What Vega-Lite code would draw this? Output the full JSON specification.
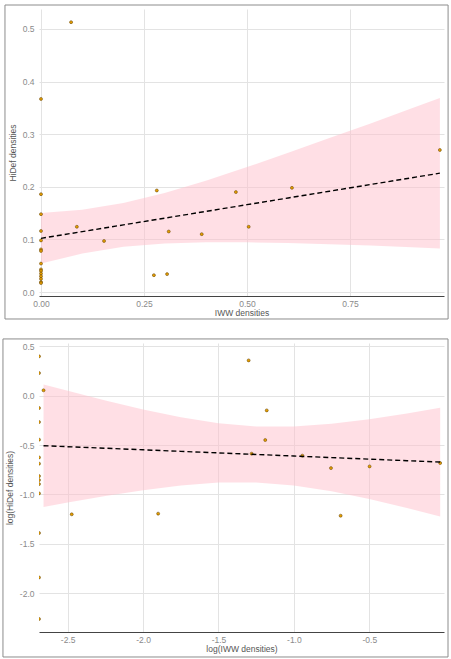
{
  "$schema": "https://vega.github.io/schema/vega-lite/v6.json",
  "background": "white",
  "padding": {"left": 2, "top": 4, "right": 3, "bottom": 2},
  "autosize": {"type": "pad"},
  "bounds": "flush",
  "spacing": 47,
  "config": {
    "font": "Liberation Sans",
    "view": {"stroke": null},
    "locale": {"number": {"decimal": ".", "thousands": ",", "grouping": [3], "currency": ["$", ""], "minus": "-"}},
    "axis": {
      "gridColor": "#e3e3e3",
      "gridWidth": 1,
      "ticks": false,
      "tickSize": 0,
      "labelFontSize": 8.5,
      "labelColor": "#8a8a8a",
      "labelFont": "Liberation Sans",
      "titleFont": "Liberation Sans",
      "titleFontSize": 8.5,
      "titleFontWeight": "normal",
      "titleColor": "#555555"
    },
    "axisX": {"domain": true, "domainColor": "#444444", "domainWidth": 1, "labelPadding": 3, "titlePadding": 1},
    "axisY": {"domain": false, "labelPadding": 5, "titlePadding": 5}
  },
  "datasets": {
    "top_pts": [
      {"x": 0, "y": 0.367}, {"x": 0.073, "y": 0.513}, {"x": 0, "y": 0.186}, {"x": 0, "y": 0.148},
      {"x": 0, "y": 0.116}, {"x": 0, "y": 0.098}, {"x": 0, "y": 0.081}, {"x": 0, "y": 0.078},
      {"x": 0, "y": 0.054}, {"x": 0, "y": 0.043}, {"x": 0, "y": 0.040}, {"x": 0, "y": 0.035},
      {"x": 0, "y": 0.030}, {"x": 0, "y": 0.025}, {"x": 0, "y": 0.019}, {"x": 0, "y": 0.017},
      {"x": 0.087, "y": 0.124}, {"x": 0.153, "y": 0.097}, {"x": 0.281, "y": 0.193}, {"x": 0.310, "y": 0.115},
      {"x": 0.390, "y": 0.110}, {"x": 0.473, "y": 0.190}, {"x": 0.504, "y": 0.124}, {"x": 0.609, "y": 0.198},
      {"x": 0.274, "y": 0.032}, {"x": 0.306, "y": 0.034}, {"x": 0.968, "y": 0.270}
    ],
    "top_fit": [
      {"x": 0, "fit": 0.102, "lo": 0.054, "hi": 0.150},
      {"x": 0.1, "fit": 0.1148, "lo": 0.0731, "hi": 0.1565},
      {"x": 0.2, "fit": 0.1276, "lo": 0.0859, "hi": 0.1693},
      {"x": 0.3, "fit": 0.1404, "lo": 0.0924, "hi": 0.1884},
      {"x": 0.4, "fit": 0.1532, "lo": 0.0947, "hi": 0.2117},
      {"x": 0.5, "fit": 0.166, "lo": 0.0945, "hi": 0.2375},
      {"x": 0.6, "fit": 0.1788, "lo": 0.093, "hi": 0.2646},
      {"x": 0.7, "fit": 0.1916, "lo": 0.0906, "hi": 0.2926},
      {"x": 0.8, "fit": 0.2044, "lo": 0.0884, "hi": 0.3204},
      {"x": 0.9, "fit": 0.2172, "lo": 0.0852, "hi": 0.3492},
      {"x": 0.968, "fit": 0.2259, "lo": 0.0829, "hi": 0.3689}
    ],
    "bot_pts": [
      {"x": -2.69, "y": 0.398}, {"x": -2.69, "y": 0.229}, {"x": -2.69, "y": -0.125}, {"x": -2.69, "y": -0.267},
      {"x": -2.69, "y": -0.445}, {"x": -2.69, "y": -0.625}, {"x": -2.69, "y": -0.688}, {"x": -2.69, "y": -0.814},
      {"x": -2.69, "y": -0.854}, {"x": -2.69, "y": -0.895}, {"x": -2.69, "y": -0.989}, {"x": -2.69, "y": -1.39},
      {"x": -2.69, "y": -1.84}, {"x": -2.69, "y": -2.26},
      {"x": -2.66, "y": 0.054}, {"x": -2.473, "y": -1.201}, {"x": -1.90, "y": -1.194}, {"x": -1.30, "y": 0.357},
      {"x": -1.18, "y": -0.149}, {"x": -1.19, "y": -0.449}, {"x": -1.28, "y": -0.587}, {"x": -0.944, "y": -0.607},
      {"x": -0.754, "y": -0.733}, {"x": -0.498, "y": -0.716}, {"x": -0.03, "y": -0.682}, {"x": -0.69, "y": -1.215}
    ],
    "bot_fit": [
      {"x": -2.66, "fit": -0.5063, "lo": -1.126, "hi": 0.114},
      {"x": -2.5, "fit": -0.5164, "lo": -1.081, "hi": 0.049},
      {"x": -2.25, "fit": -0.5321, "lo": -1.015, "hi": -0.049},
      {"x": -2.0, "fit": -0.5479, "lo": -0.9563, "hi": -0.1395},
      {"x": -1.75, "fit": -0.5636, "lo": -0.9085, "hi": -0.2187},
      {"x": -1.5, "fit": -0.5794, "lo": -0.8794, "hi": -0.2794},
      {"x": -1.25, "fit": -0.5951, "lo": -0.8779, "hi": -0.3123},
      {"x": -1.0, "fit": -0.6109, "lo": -0.9091, "hi": -0.3127},
      {"x": -0.75, "fit": -0.6267, "lo": -0.9683, "hi": -0.2851},
      {"x": -0.5, "fit": -0.6424, "lo": -1.0467, "hi": -0.2381},
      {"x": -0.25, "fit": -0.6582, "lo": -1.1368, "hi": -0.1796},
      {"x": -0.03, "fit": -0.672, "lo": -1.222, "hi": -0.122}
    ]
  },
  "vconcat": [
    {
      "width": 405,
      "height": 287,
      "layer": [
        {
          "data": {"name": "top_fit"},
          "mark": {"type": "area", "fill": "#ffc0cb", "opacity": 0.5, "clip": true},
          "encoding": {
            "x": {"field": "x", "type": "quantitative", "title": "IWW densities",
                  "scale": {"domain": [-0.00485, 0.978], "nice": false, "zero": false},
                  "axis": {"values": [0, 0.25, 0.5, 0.75], "format": ".2f"}},
            "y": {"field": "lo", "type": "quantitative", "title": "HiDef densities",
                  "scale": {"domain": [-0.0076, 0.538], "nice": false, "zero": false},
                  "axis": {"values": [0, 0.1, 0.2, 0.3, 0.4, 0.5], "format": ".1f"}},
            "y2": {"field": "hi"}
          }
        },
        {
          "data": {"name": "top_pts"},
          "mark": {"type": "circle", "size": 9, "fill": "#e69f00", "stroke": "#5a3a00", "strokeWidth": 0.5, "opacity": 1, "clip": true},
          "encoding": {
            "x": {"field": "x", "type": "quantitative", "title": "IWW densities"},
            "y": {"field": "y", "type": "quantitative", "title": "HiDef densities"}
          }
        },
        {
          "data": {"name": "top_fit"},
          "mark": {"type": "line", "color": "black", "strokeWidth": 1.4, "strokeDash": [5, 3], "clip": true},
          "encoding": {
            "x": {"field": "x", "type": "quantitative", "title": "IWW densities"},
            "y": {"field": "fit", "type": "quantitative", "title": "HiDef densities"}
          }
        },
        {
          "data": {"values": [{}]},
          "mark": {"type": "rect", "filled": false, "stroke": "#8c8c8c", "strokeWidth": 1, "clip": false},
          "encoding": {
            "x": {"datum": -0.0874, "type": "quantitative", "title": "IWW densities"},
            "x2": {"datum": 0.9879},
            "y": {"datum": 0.5456, "type": "quantitative", "title": "HiDef densities"},
            "y2": {"datum": -0.0513}
          }
        }
      ]
    },
    {
      "width": 405,
      "height": 289,
      "layer": [
        {
          "data": {"name": "bot_fit"},
          "mark": {"type": "area", "fill": "#ffc0cb", "opacity": 0.5, "clip": true},
          "encoding": {
            "x": {"field": "x", "type": "quantitative", "title": "log(IWW densities)",
                  "scale": {"domain": [-2.69, -0.0046], "nice": false, "zero": false},
                  "axis": {"values": [-2.5, -2, -1.5, -1, -0.5], "format": ".1f"}},
            "y": {"field": "lo", "type": "quantitative", "title": "log(HiDef densities)",
                  "scale": {"domain": [-2.392, 0.533], "nice": false, "zero": false},
                  "axis": {"values": [0.5, 0, -0.5, -1, -1.5, -2], "format": ".1f"}},
            "y2": {"field": "hi"}
          }
        },
        {
          "data": {"name": "bot_pts"},
          "mark": {"type": "circle", "size": 9, "fill": "#e69f00", "stroke": "#5a3a00", "strokeWidth": 0.5, "opacity": 1, "clip": true},
          "encoding": {
            "x": {"field": "x", "type": "quantitative", "title": "log(IWW densities)"},
            "y": {"field": "y", "type": "quantitative", "title": "log(HiDef densities)"}
          }
        },
        {
          "data": {"name": "bot_fit"},
          "mark": {"type": "line", "color": "black", "strokeWidth": 1.4, "strokeDash": [5, 3], "clip": true},
          "encoding": {
            "x": {"field": "x", "type": "quantitative", "title": "log(IWW densities)"},
            "y": {"field": "fit", "type": "quantitative", "title": "log(HiDef densities)"}
          }
        },
        {
          "data": {"values": [{}]},
          "mark": {"type": "rect", "filled": false, "stroke": "#8c8c8c", "strokeWidth": 1, "clip": false},
          "encoding": {
            "x": {"datum": -2.929, "type": "quantitative", "title": "log(IWW densities)"},
            "x2": {"datum": 0.022},
            "y": {"datum": 0.574, "type": "quantitative", "title": "log(HiDef densities)"},
            "y2": {"datum": -2.645}
          }
        }
      ]
    }
  ]
}
